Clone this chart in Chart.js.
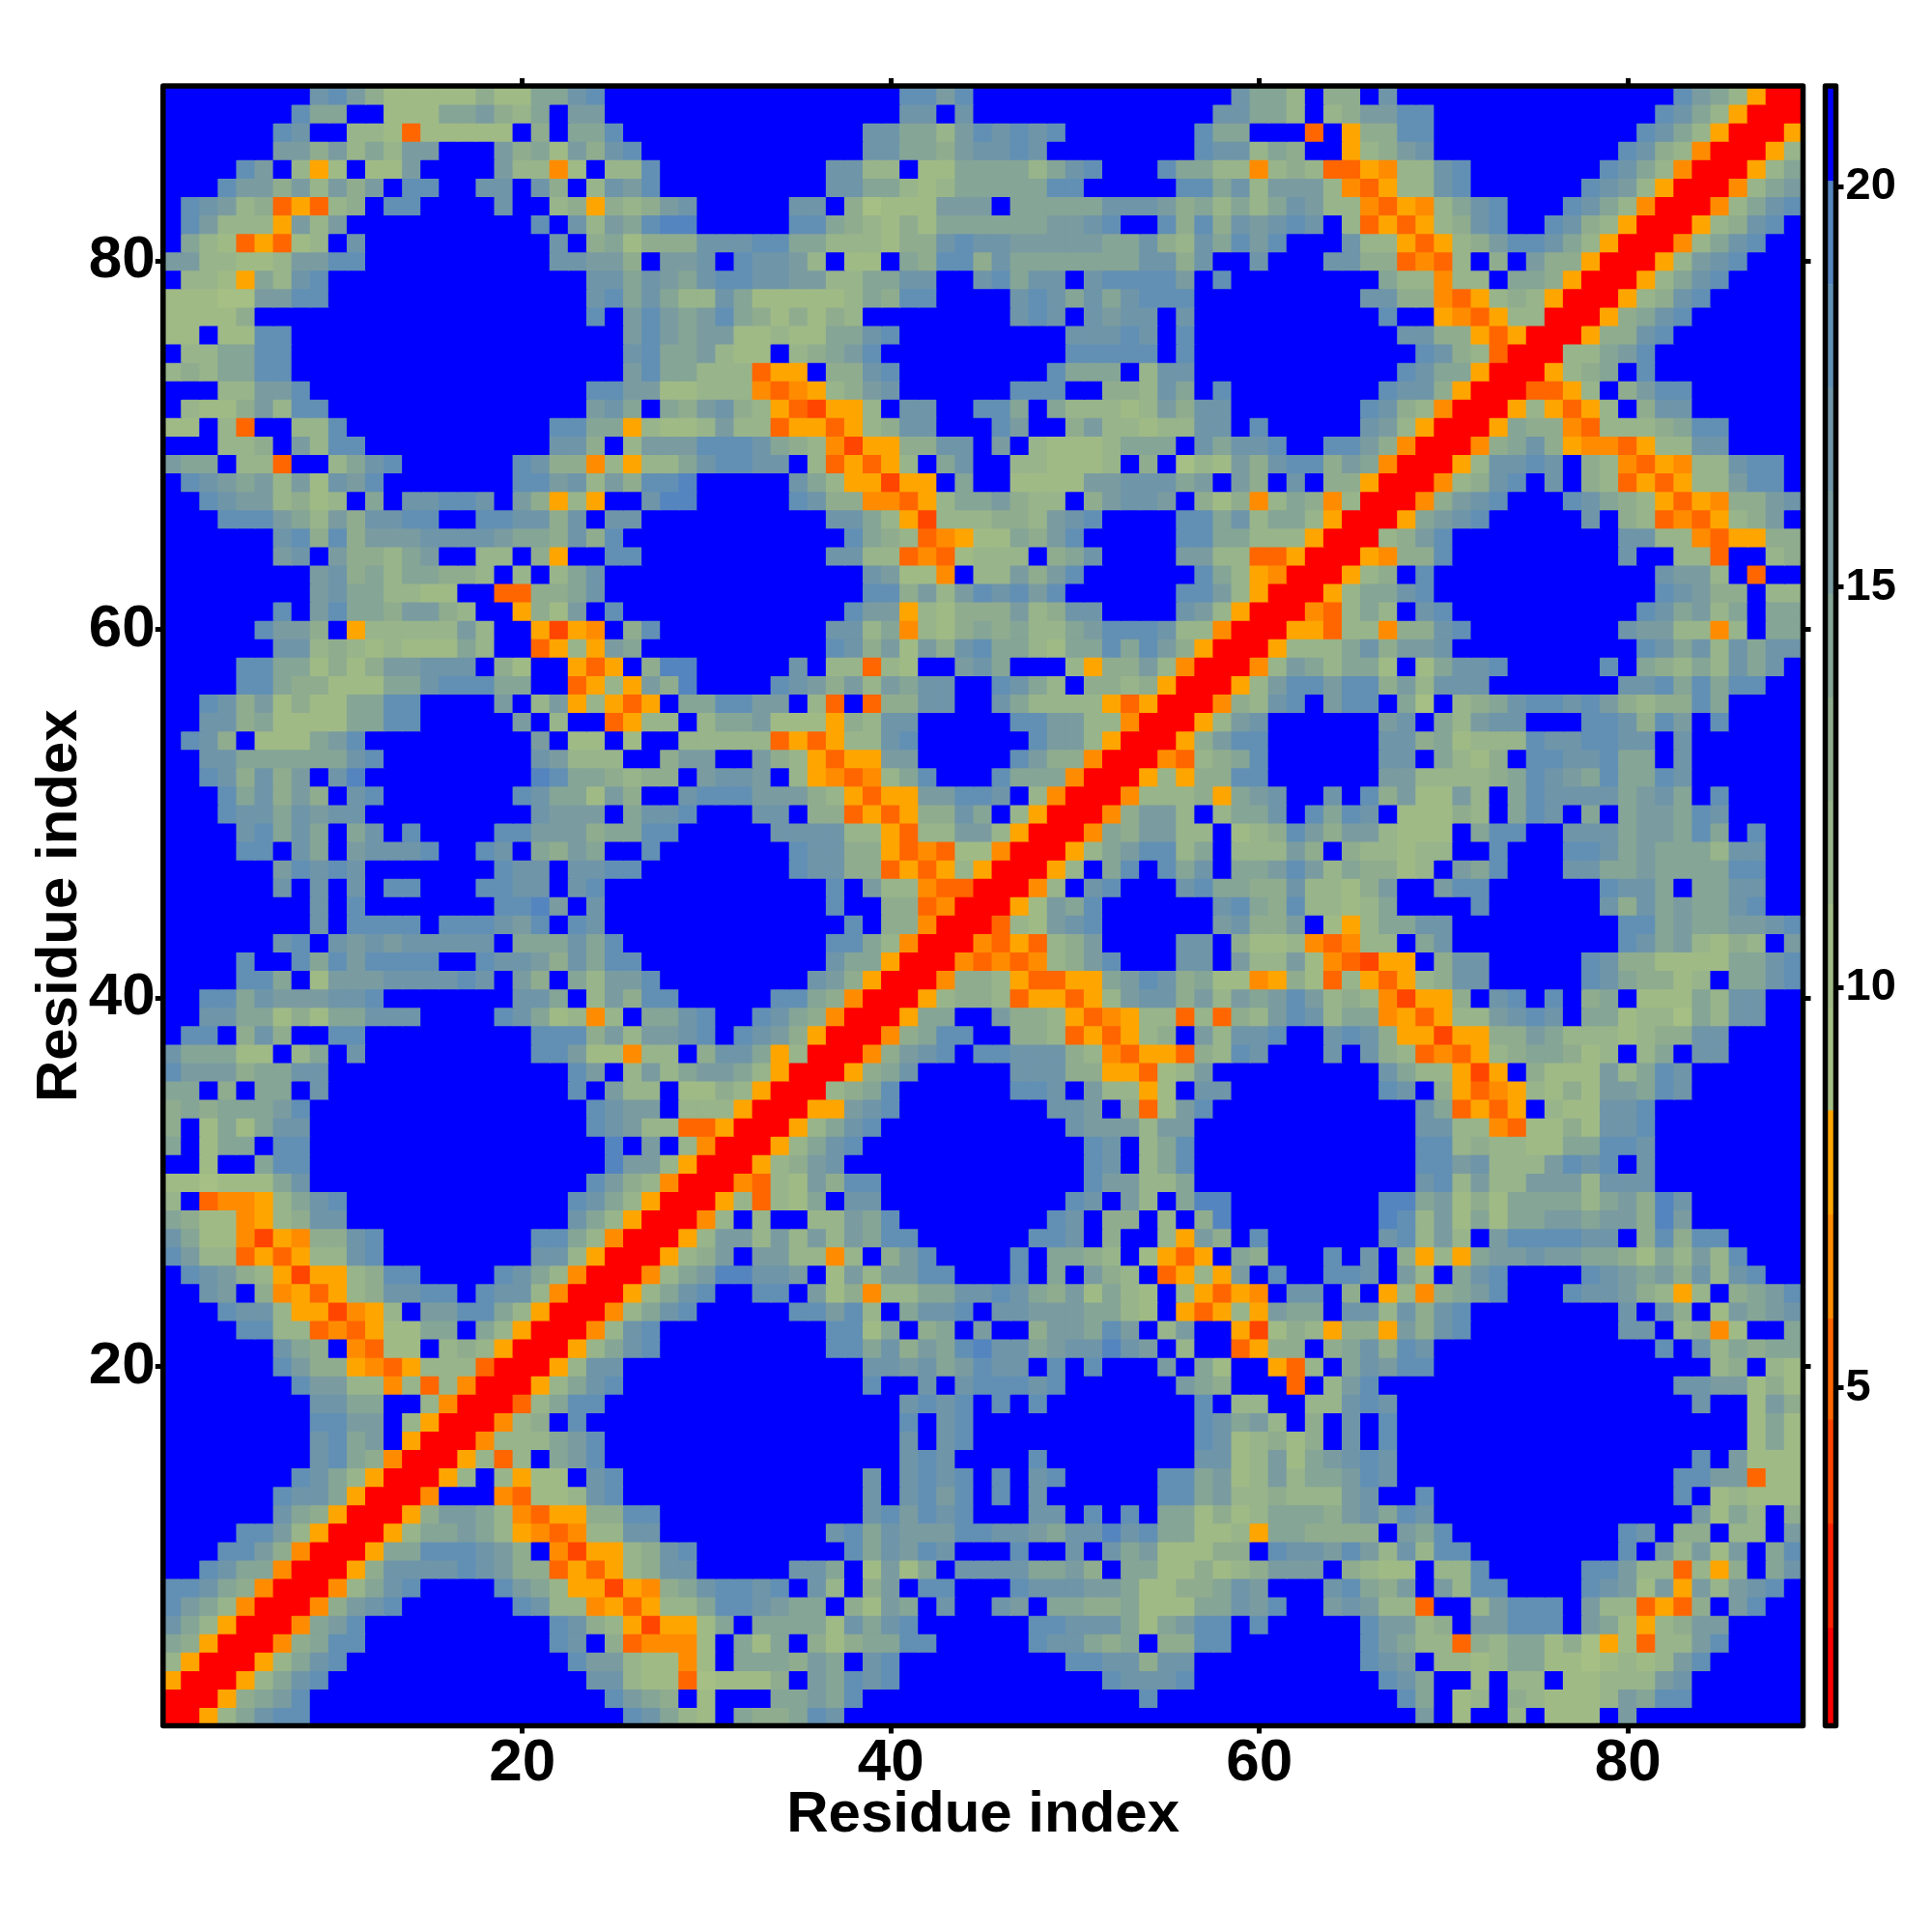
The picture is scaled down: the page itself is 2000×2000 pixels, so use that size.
<!DOCTYPE html>
<html>
<head>
<meta charset="utf-8">
<title>Residue distance map</title>
<script src="https://cdn.jsdelivr.net/npm/chart.js@4/dist/chart.umd.min.js"></script>
<style>
    html, body { margin: 0; padding: 0; background: #fff; }
    canvas { position: absolute; top: 0; }
    #mapChart { left: 0; }
    #barChart { left: 1870px; }
</style>
</head>
<body>
<canvas id="mapChart" width="2000" height="2000"></canvas>
<canvas id="barChart" width="130" height="2000"></canvas>
<script>
const residueCount = 89;
const axisTitle = 'Residue index';
const axisTicks = [20, 40, 60, 80];
const colorbarTicks = [5, 10, 15, 20];

// colorbar bands (distance limits and their colours)
const bandLimits = [0.78, 2.0, 3.3, 4.6, 5.86, 7.16, 8.46, 9.75, 11.04, 12.33, 13.62, 14.91, 16.2, 17.49, 18.78, 20.07, 21.26];
const bandColors = ['#ff0000', '#ff2200', '#ff4500', '#ff6600', '#ff8c00', '#ffa500',
    '#a5bf84', '#a0ba86', '#98b48a', '#90ac8e', '#85a596', '#7a9ca0', '#6f95a9', '#6290b4', '#5585bf', '#0000ff'];

// distance for each letter used in the rows below
const codeValues = { R: 1.4, a: 4, b: 5.2, c: 6.5, d: 7.8, 1: 9.1, 2: 10.4, 3: 11.7, 4: 13, 5: 14.3, 6: 15.5, 7: 16.8, 8: 18.1, 9: 19.4, B: 21 };

// the map is symmetric: one row per y, from y=89 down to y=1, holding x=1..y
const upperRows = [
    'BBBBBBBB78 6422222422 5578BBBBBB BBBBBBBBBB 8868BBBBBB BBBBBBBB75 53B44B7BBB BBBBBBBBBB BB8653dRR',
    'BBBBBBB855 BB22255643 5B66BBBBBB BBBBBBBBBB 77B7BBBBBB BBBBBBB775 53B346688B BBBBBBBBBB B8753dRR',
    'BBBBBB87BB 332b22222B 4B558BBBBB BBBBBBBB77 553687878B BBBBBB855B BBbBd4488B BBBBBBBBBB 8753dRR',
    'BBBBBB6646 35366BBB64 526478BBBB BBBBBBBB77 55467787BB BBBBBB8773 54BBd3467B BBBBBBBBB8 743cRR',
    'BBBB86B3d2 B226BBBB63 3c2B338BBB BBBBBB7733 B225555357 8BBB85533c 343bbdc337 8BBBBBBB87 53cRR',
    'BBB8664636 46B88BB77B 74B3768BBB BBBBBB7755 3235555588 BBBBB88573 6663cbd337 8BBBBBB876 3dRR',
    'B87634bdb3 4B88BBBB7B B34d43467B BBBB77B412 22666B5555 5777645353 57633cbdc3 578BBB8753 cRR',
    'B86333d636 BBBBBBBBBB 8B7365899B BBBB885432 4255555566 78BB848476 787B3bdbd3 478BB8743d RR',
    'B532bdb23B 7BBBBBBBBB B7B4524447 7788553332 4478776666 6557437586 8BBB733dbd 34688753dR R',
    '6633223668 8BBBBBBBBB B77664B667 B87763B22B 5488475555 5557747BB7 BBB7744bcb 3B4B644dRR',
    'B332d5378B BBBBBBBBBB BBB7757657 8877663355 77BB78577B 788886B8BB BBBBBB533c 33B554dRR',
    '222116688B BBBBBBBBBB BBB7857533 7522222354 88BBBB7875 757888BBBB BBBBB7744c bd343dRR',
    '22224BBBBB BBBBBBBBBB BBB8B68656 85424243BB BBBBBB787B 7677B7BBBB BBBBBB8BBd cbd33RR',
    '22B2288BBB BBBBBBBBBB BBBBB68656 6223225578 BBBBBBBBB7 7787B8BBBB BBBBBBB774 4dbdRR',
    'B335588BBB BBBBBBBBBB BBBBB78556 322B34568B BBBBBBBBB8 8888B8BBBB BBBBBBBB87 43bRR',
    '3435588BBB BBBBBBBBBB BBBBB68553 33bddB4478 BBBBBBBB85 55B377BBBB BBBBBBB875 5dRR',
    'BBB33668BB BBBBBBBBBB BBB8866223 33cbcd3467 BBBBBB888B B44375B8BB BBBBBB8774 dRR',
    'B32246388B BBBBBBBBBB BBB675B546 743dbadd3B 77BB885B53 33236477BB BBBBB8743c RR',
    '22B3bBB338 BBBBBBBBBB B8855d3223 633bddbd34 77BBB86BB4 63323377B8 BBBBB763dR R',
    'BBB334B638 8BBBBBBBBB B774B36668 887543cadd 4477B6B322 23555B7577 8BB8864cRR',
    '655B33bBB3 578BBBBBB8 744c3d3357 8877B3bdbd 3B57BB3322 23B4B13264 788465cRR',
    'B876563627 68BBBBBBB8 867364889B BBBB753dda ddB5BB2222 6677756B64 B7B44dRR',
    'BB87663423 B5B77887B6 4d3dBB799B BBBB8744cc bd3556433B 46776B424c 354c3RR',
    'BBB8886536 47788BB887 747B77BBBB BBBBBB7753 da33344367 8BBBB88573 553dRR',
    'BBBBBB7848 4666777765 54748BBBBB BBBBBBB854 3bcd225468 BBBBB88553 33dRR',
    'BBBBBB67B6 44356BB33B 4dBB88BBBB BBBBBB7733 bcb2333B45 7BBBB6633b bdRR',
    'BBBBBBBB67 45355443B3 B357BBBBBB BBBBBBBB76 22cB336468 BBBBBB853d cRR',
    'BBBBBBBB67 553322BBbb 4457BBBBBB BBBBBBBB88 463687868B BBBBB8863d RR',
    'BBBBBB8B68 5546643BBd 426B8BBBBB BBBBBBB866 d324446347 7BBBB763dR R',
    'BBBBB8664B d3333363BB dadcB48BBB BBBBBB7735 c324545335 6888733cRR',
    'BBBBBB7734 32322253BB bd3d65BBBB BBBBBB8746 2647855325 585864dRR',
    'BBBB885524 2466777B42 BBdbdB499B BBBB7B33b3 2BB675BBB3 d4463cRR',
    'BBBB885442 2255788855 BBbd3d649B BBB8764636 577BB8753B 4434dRR',
    'BB87462422 5588BBBB6B 36d3dbdB55 8866B3bBb4 477BB75333 3dbdRR',
    'BB77452222 5588BBBBB6 B3BBbd33B3 556222d437 7BBBBB8866 33cRR',
    'B874B22256 8BBBBBBBBB 6B22B2BB33 333bdbd337 8BBBBBB866 3dRR',
    'BB77555555 78BBBBBBBB 76333BB466 BB643dbdd6 6BBBBB8644 cRR',
    'BB874746B7 9BBBBBBBBB 98554344B6 776B3dcbc3 58BBB8555c RR',
    'BBB857464B 78BBBBBBB8 755264BB78 8866643dbd d66887B3cR R',
    'BBB8775767 7BBBBBBBBB 7666B5778B BB77B44bdb d4475B3dRR',
    'BBBB78575B 57B8BBBB88 66645588BB BBB777733d b33663dRR',
    'BBBB88B75B 67778BB87B 5465BB8BBB BBBB87744d bcb22cRR',
    'BBBBBB6878 7BBBBBBB87 7B7788BBBB BBBB87744b dbd3dRR',
    'BBBBBB7B7B 7B88BBB887 7B78BBBBBB BBBBBB8B63 3cbbRR',
    'BBBBBBBB7B 8BBBBBBB88 96B7BBBBBB BBBBBB8BB4 4bcRR',
    'BBBBBBBB7B 8888B88876 8B87BBBBBB BBBBBBB8B4 4cRR',
    'BBBBBB78B7 67677777B5 55758BBBBB BBBBBB8853 cRR',
    'BBBB8BB858 68888BB877 647588BBBB BBBBBB755d RR',
    'BBBB885B26 66777787B6 4B53668BBB BBBBB764dR R',
    'BB88576667 78BBBBBBB7 75B36488BB BBB8854cRR',
    'BB77552425 5777BBBB87 523c3B5578 BB8754cRR',
    'B88B474BB8 8BBBBBBBBB 8884636678 B8764dRR',
    '755522B35B 7BBBBBBBBB 88622c33B4 775d3RR',
    '866645577B BBBBBBBBBB BB86B36356 653dRR',
    '55B4B55B7B BBBBBBBBBB BB8B633B22 43dRR',
    '45455568BB BBBBBBBBBB BBB8766B33 3dRR',
    '4B252577BB BBBBBBBBBB BBB87633bb dRR',
    '5B255B88BB BBBBBBBBBB BBBB9B6B3c RR',
    'BB2BB588BB BBBBBBBBBB BBBB9663dR R',
    '22122257BB BBBBBBBBBB BBB8643cRR',
    '3Bbccd3578 BBBBBBBBBB BB8753dRR',
    '5422cd3477 BBBBBBBBBB BB753dRR',
    '7522cadc44 78BBBBBBBB 8853cRR',
    '8633bdbd33 78BBBBBBBB 773dRR',
    'B87643dadd 3488BBBB87 53cRR',
    'BB76B4cdbd 347788B877 3cRR',
    'BBB8773dda cd3B668853 dRR',
    'BBBB8833bc bd2255B53d RR',
    'BBBBBB754B cb22B343dR R',
    'BBBBBB8644 dcbd333bRR',
    'BBBBBBB866 33c3b3cRR',
    'BBBBBBBB77 55BB3cRR',
    'BBBBBBBB88 66B3dRR',
    'BBBBBBBB78 56BdRR',
    'BBBBBBBB78 54cRR',
    'BBBBBBB875 3dRR',
    'BBBBBB8775 dRR',
    'BBBBBB754d RR',
    'BBBB8863dR R',
    'BBB8864cRR',
    'BB8755cRR',
    '88754cRR',
    '8653cRR',
    '753dRR',
    '54dRR',
    '3dRR',
    'dRR',
    'RR',
    'R'
];

const rows = upperRows.map(r => r.replace(/ /g, ''));

function cellValue(x, y) {
    if (x > y) return cellValue(y, x);
    const code = rows[residueCount - y][x - 1] || 'B';
    return codeValues[code];
}

function colorFor(value) {
    for (let i = 0; i < bandColors.length; i++) {
        if (value <= bandLimits[i + 1]) return bandColors[i];
    }
    return bandColors[bandColors.length - 1];
}

const cells = [];
for (let y = 1; y <= residueCount; y++) {
    for (let x = 1; x <= residueCount; x++) {
        cells.push({ x: x, y: y, v: cellValue(x, y) });
    }
}

// Marco negro alrededor del área de dibujo
const framePlugin = {
    id: 'frame',
    afterDraw(chart, args, opts) {
        const a = chart.chartArea;
        const ctx = chart.ctx;
        ctx.save();
        ctx.strokeStyle = '#000';
        ctx.lineWidth = opts.width;
        ctx.lineJoin = 'round';
        ctx.strokeRect(a.left, a.top, a.right - a.left, a.bottom - a.top);
        ctx.restore();
    }
};

function setTicks(list) {
    return axis => { axis.ticks = list.map(v => ({ value: v })); };
}

function fixedSize(size) {
    return axis => {
        if (axis.isHorizontal()) axis.height = size;
        else axis.width = size;
    };
}

const tickMarks = { display: true, drawOnChartArea: false, drawTicks: true, tickLength: 8, tickWidth: 5, tickColor: '#000' };
const labelFont = { family: '"Liberation Sans"', size: 62, weight: 'bold' };
const titleFont = { family: '"Liberation Sans"', size: 60, weight: 'bold' };

function initMapChart() {
    const ctx = document.getElementById('mapChart').getContext('2d');
    new Chart(ctx, {
        type: 'scatter',
        data: {
            datasets: [{
                data: cells,
                pointStyle: 'rect',
                pointBorderWidth: 0,
                pointRadius: c => c.chart.scales.x.width / residueCount * Math.SQRT1_2 + 0.9,
                pointBackgroundColor: c => colorFor(c.raw.v)
            }]
        },
        options: {
            responsive: false,
            animation: false,
            events: [],
            plugins: { legend: { display: false }, tooltip: { enabled: false }, frame: { width: 5.5 } },
            scales: {
                x: {
                    type: 'linear', position: 'bottom', min: 0.5, max: residueCount + 0.5,
                    afterBuildTicks: setTicks(axisTicks), afterFit: fixedSize(213.5),
                    grid: tickMarks, border: { display: false },
                    ticks: { color: '#000', font: labelFont, padding: -6, maxRotation: 0, autoSkip: false },
                    title: { display: true, text: axisTitle, color: '#000', font: titleFont, padding: { top: 0, bottom: 85 } }
                },
                y: {
                    type: 'linear', position: 'left', min: 0.5, max: residueCount + 0.5,
                    afterBuildTicks: setTicks(axisTicks), afterFit: fixedSize(168.8),
                    grid: tickMarks, border: { display: false },
                    ticks: { color: '#000', font: labelFont, padding: 0, autoSkip: false },
                    title: { display: true, text: axisTitle, color: '#000', font: titleFont, padding: { top: 26, bottom: 0 } }
                },
                xTop: {
                    type: 'linear', position: 'top', min: 0.5, max: residueCount + 0.5,
                    afterBuildTicks: setTicks(axisTicks), afterFit: fixedSize(88.9),
                    grid: tickMarks, border: { display: false }, ticks: { display: false }
                },
                yRight: {
                    type: 'linear', position: 'right', min: 0.5, max: residueCount + 0.5,
                    afterBuildTicks: setTicks(axisTicks), afterFit: fixedSize(133.5),
                    grid: tickMarks, border: { display: false }, ticks: { display: false }
                }
            }
        },
        plugins: [framePlugin]
    });
}

function initColorbar() {
    const ctx = document.getElementById('barChart').getContext('2d');
    new Chart(ctx, {
        type: 'bar',
        data: {
            labels: [''],
            datasets: bandColors.map((color, i) => ({
                data: [[bandLimits[i], bandLimits[i + 1]]],
                backgroundColor: color,
                barPercentage: 1,
                categoryPercentage: 1,
                grouped: false
            }))
        },
        options: {
            responsive: false,
            animation: false,
            events: [],
            layout: { padding: { left: 19.5, top: 88.9, bottom: 213.5 } },
            plugins: { legend: { display: false }, tooltip: { enabled: false }, frame: { width: 5.5 } },
            scales: {
                x: { display: false },
                y: {
                    type: 'linear', position: 'right', min: bandLimits[0], max: bandLimits[bandLimits.length - 1],
                    afterBuildTicks: setTicks(colorbarTicks), afterFit: fixedSize(99.5),
                    grid: tickMarks, border: { display: false },
                    ticks: { color: '#000', font: { family: '"Liberation Sans"', size: 47, weight: 'bold' }, padding: 2, autoSkip: false }
                }
            }
        },
        plugins: [framePlugin]
    });
}

initMapChart();
initColorbar();
</script>
</body>
</html>
